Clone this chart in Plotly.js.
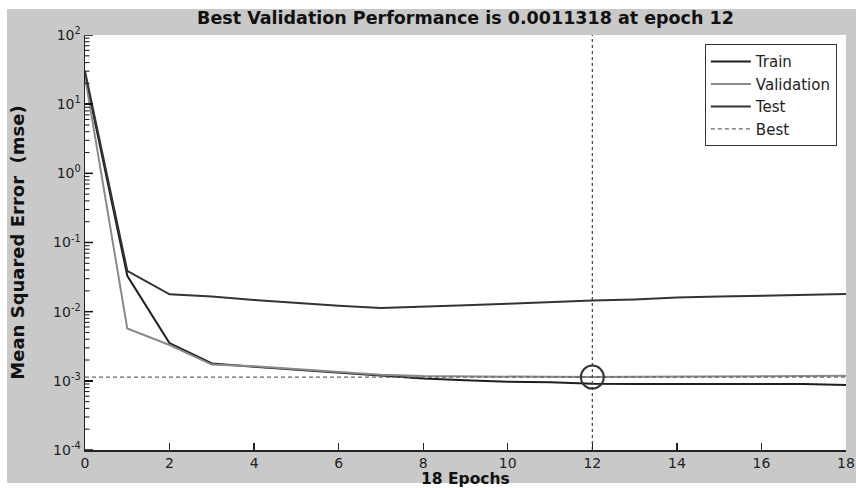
<!DOCTYPE html>
<html>
<head>
<meta charset="utf-8">
<script src="https://cdn.plot.ly/plotly-3.0.1.min.js"></script>
<style>
html,body{margin:0;padding:0;background:#ffffff;}
#chart{position:absolute;left:7px;top:9px;width:849px;height:474px;overflow:visible;}
#chart .main-svg{overflow:visible;}
</style>
</head>
<body>
<div id="chart"></div>
<script>
const epochs = [0,1,2,3,4,5,6,7,8,9,10,11,12,13,14,15,16,17,18];
const trainMse = [27,0.033,0.0035,0.00178,0.0016,0.00145,0.0013,0.0012,0.00108,0.00102,0.00097,0.00095,0.00091,0.0009,0.0009,0.0009,0.0009,0.0009,0.00087];
const validationMse = [25,0.0057,0.0033,0.00172,0.00162,0.00148,0.00132,0.00122,0.00117,0.00116,0.00115,0.00114,0.0011318,0.00115,0.00116,0.00117,0.00117,0.00118,0.00118];
const testMse = [30,0.039,0.0178,0.0165,0.0148,0.0133,0.0122,0.0113,0.0117,0.0124,0.013,0.0138,0.0145,0.015,0.016,0.0165,0.017,0.0176,0.018];
const bestEpoch = 12;
const bestPerf = 0.0011318;
const xTicks = [0,2,4,6,8,10,12,14,16,18];
const yTickVals = [1e-4,1e-3,1e-2,1e-1,1,10,100];
const yTickText = ['10<sup>-4</sup>','10<sup>-3</sup>','10<sup>-2</sup>','10<sup>-1</sup>','10<sup>0</sup>','10<sup>1</sup>','10<sup>2</sup>'];

// unlabelled 2..9 sub-ticks of every decade
const minorVals = [];
for (let i = 0; i < yTickVals.length - 1; i++) {
  for (let m = 2; m <= 9; m++) minorVals.push(yTickVals[i] * m);
}

const plotW = 849 - 78 - 10;
const tickShapes = [];
yTickVals.forEach(v => tickShapes.push({type: 'line', xref: 'paper', yref: 'y', x0: 0, x1: 8 / plotW, y0: v, y1: v, line: {color: '#111', width: 1.5}, layer: 'above'}));
minorVals.forEach(v => tickShapes.push({type: 'line', xref: 'paper', yref: 'y', x0: 0, x1: 4.5 / plotW, y0: v, y1: v, line: {color: '#222', width: 1.1}, layer: 'above'}));

const traces = [
  {x: epochs, y: trainMse, name: 'Train', mode: 'lines', line: {color: '#1e1e1e', width: 2}},
  {x: epochs, y: validationMse, name: 'Validation', mode: 'lines', line: {color: '#8a8a8a', width: 2}},
  {x: epochs, y: testMse, name: 'Test', mode: 'lines', line: {color: '#333333', width: 2}},
  {x: [epochs[0], epochs[epochs.length-1]], y: [bestPerf, bestPerf], name: 'Best', mode: 'lines', line: {color: '#666666', width: 1.2, dash: '4px,3px'}},
  {x: [bestEpoch, bestEpoch], y: [yTickVals[0], yTickVals[yTickVals.length-1]], mode: 'lines', showlegend: false, line: {color: '#444444', width: 1.2, dash: 'dot'}},
  {x: [bestEpoch], y: [bestPerf], mode: 'markers', showlegend: false, marker: {symbol: 'circle-open', size: 23, color: '#333333', line: {width: 2, color: '#333333'}}}
];

const tickFont = {family: 'DejaVu Sans, sans-serif', size: 14, color: '#222'};

const layout = {
  width: 849, height: 474,
  paper_bgcolor: '#c9c9c9', plot_bgcolor: '#ffffff',
  margin: {l: 78, r: 10, t: 26, b: 33},
  font: {family: 'DejaVu Sans, sans-serif', size: 14, color: '#111111'},
  title: {text: '<b>Best Validation Performance is 0.0011318 at epoch 12</b>', font: {family: 'DejaVu Sans, sans-serif', size: 17.5, color: '#111111'}, x: 0.5, xref: 'paper', y: 0.981, yref: 'container', yanchor: 'middle'},
  xaxis: {
    range: [0, 18], tickvals: xTicks, ticks: 'inside', ticklen: 7, tickcolor: '#222', tickwidth: 1.3,
    showline: true, linecolor: '#222', linewidth: 1.5, showgrid: false, zeroline: false,
    tickfont: tickFont
  },
  yaxis: {
    type: 'log', range: [-4, 2], tickmode: 'array', tickvals: yTickVals, ticktext: yTickText,
    ticks: 'inside', ticklen: 8, tickcolor: '#111', tickwidth: 1.5,
    showline: true, linecolor: '#222', linewidth: 1.5, showgrid: false, zeroline: false,
    tickfont: tickFont,
    title: {text: '<b>Mean Squared Error  (mse)</b>', font: {family: 'DejaVu Sans, sans-serif', size: 18, color: '#111'}, standoff: 24}
  },
  shapes: tickShapes,
  annotations: [
    {text: '<b>18 Epochs</b>', xref: 'paper', yref: 'paper', x: 0.5, y: -29/415, xanchor: 'center', yanchor: 'middle', showarrow: false,
     font: {family: 'DejaVu Sans, sans-serif', size: 15.5, color: '#111'}}
  ],
  legend: {
    x: 0.988, xanchor: 'right', y: 0.978, yanchor: 'top',
    bgcolor: '#ffffff', bordercolor: '#333333', borderwidth: 1,
    font: {family: 'DejaVu Sans, sans-serif', size: 15, color: '#222'},
    tracegroupgap: 0, itemwidth: 40
  },
  showlegend: true
};

Plotly.newPlot('chart', traces, layout, {staticPlot: true, displayModeBar: false});
</script>
</body>
</html>
